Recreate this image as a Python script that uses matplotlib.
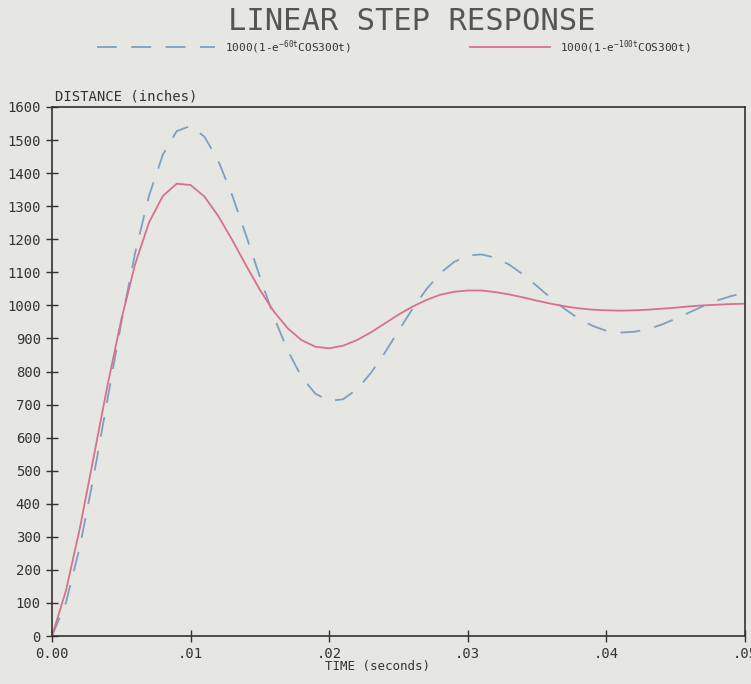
import numpy as np
import matplotlib
matplotlib.use("Agg")
from matplotlib import pyplot as plt
from matplotlib.lines import Line2D

plt.rcParams['font.family'] = ['DejaVu Sans Mono', 'DejaVu Sans']
plt.rcParams['mathtext.default'] = 'regular'

# time (seconds), one reading every .001
t = [i / 1000 for i in range(51)]

# 1000(1-e^-60t cos300t)  (dashed)
dist_60 = [0, 100, 268, 481, 715, 948, 1159, 1332, 1456, 1527,
           1543, 1510, 1437, 1333, 1212, 1086, 966, 864, 784, 733,
           711, 716, 746, 795, 856, 923, 989, 1048, 1097, 1131,
           1151, 1154, 1144, 1123, 1093, 1058, 1022, 989, 960, 938,
           923, 918, 920, 928, 942, 960, 979, 998, 1015, 1028, 1038]

# 1000(1-e^-100t cos300t)  (solid)
dist_100 = [0, 136, 324, 540, 757, 957, 1125, 1251, 1331, 1368,
            1364, 1329, 1270, 1198, 1121, 1047, 982, 931, 895, 875,
            870, 878, 895, 918, 945, 972, 996, 1016, 1032, 1041,
            1045, 1045, 1040, 1033, 1024, 1014, 1005, 997, 991, 987,
            985, 984, 985, 987, 990, 993, 997, 1000, 1002, 1004, 1005]

x_ticks = [0, 0.01, 0.02, 0.03, 0.04, 0.05]
x_labels = ["0.00", ".01", ".02", ".03", ".04", ".05"]
y_ticks = list(range(0, 1700, 100))

bg = '#e6e6e3'
ink = '#333333'
blue = '#7f9fc2'
pink = '#d9708c'

fig = plt.figure(figsize=(7.51, 6.84), dpi=100, facecolor=bg)
ax = fig.add_axes([52/751, 1-636/684, (745-52)/751, (636-107)/684])
ax.set_facecolor(bg)

ax.plot(t, dist_60, color=blue, lw=1.3, dashes=(11, 8))
ax.plot(t, dist_100, color=pink, lw=1.3)

ax.set_xlim(0, 0.05)
ax.set_ylim(0, 1600)
ax.set_xticks(x_ticks)
ax.set_xticklabels(x_labels)
ax.set_yticks(y_ticks)
ax.tick_params(direction='inout', length=8, width=1, colors=ink,
               labelsize=10, pad=4)
for s in ax.spines.values():
    s.set_color(ink)
    s.set_linewidth(1.2)

ax.set_xlabel("TIME (seconds)", fontsize=9, color=ink)
ax.xaxis.set_label_coords(0.47, -0.045)
fig.text(55/751, 1-100/684, "DISTANCE (inches)", fontsize=10, color=ink,
         ha='left', va='baseline')

# title
fig.text(0.548, 1-22/684, "LINEAR STEP RESPONSE", fontsize=22, color='#555555',
         ha='center', va='center')

# legend row
ly = 1-47/684
fig.add_artist(Line2D([97/751, 215/751], [ly, ly], transform=fig.transFigure,
                      color=blue, lw=1.3, dashes=(11, 8)))
fig.text(225/751, ly, "1000(1-e$^{-60t}$COS300t)", fontsize=8, color=ink,
         ha='left', va='center')
fig.add_artist(Line2D([470/751, 550/751], [ly, ly], transform=fig.transFigure,
                      color=pink, lw=1.3))
fig.text(560/751, ly, "1000(1-e$^{-100t}$COS300t)", fontsize=8, color=ink,
         ha='left', va='center')

fig.savefig("out.png", dpi=100, facecolor=bg)
